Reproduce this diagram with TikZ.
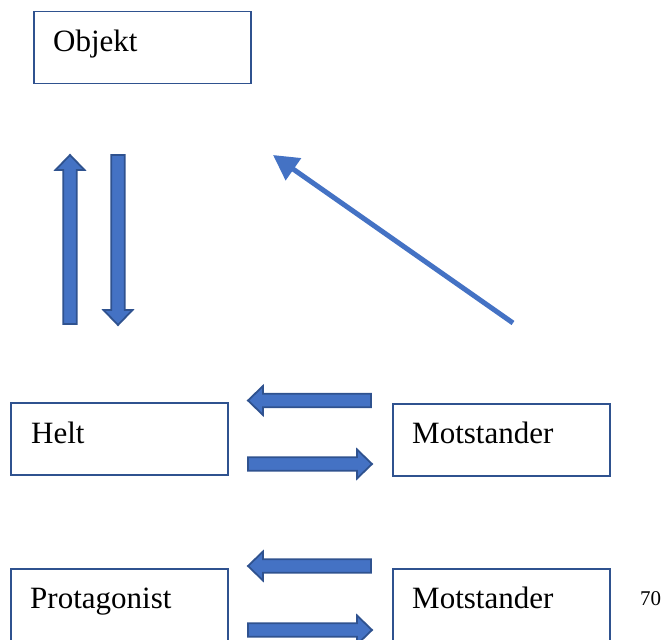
\documentclass[tikz,border=0pt]{standalone}
\usepackage{fontspec}
\setmainfont{Liberation Serif}
\usetikzlibrary{arrows.meta,calc}
\definecolor{accent}{HTML}{4472C4}
\definecolor{edge}{HTML}{2F528F}
\tikzset{
  box/.style={draw=edge, line width=1.5pt, rectangle, anchor=north west,
    minimum width=217pt, minimum height=72pt, inner sep=0pt},
  lbl/.style={anchor=base west, inner sep=0pt, font=\fontsize{31}{36}\selectfont},
  pics/barrow/.style={code={
    \filldraw[fill=accent, draw=edge, line width=1.8pt, line join=miter]
      (0,-6.75) -- (#1-15,-6.75) -- (#1-15,-14.5) -- (#1,0)
      -- (#1-15,14.5) -- (#1-15,6.75) -- (0,6.75) -- cycle;}},
  linkarrow/.style={draw=accent, line width=5pt,
    -{Triangle[length=25pt,width=26pt]}}
}
\begin{document}
\begin{tikzpicture}[x=1pt,y=-1pt]
\useasboundingbox (0,0) rectangle (663,639);

% boxes
\node[box] (obj)   at (33,11)  {};
\node[box] (helt)  at (10,402) {};
\node[box] (mot1)  at (392,403) {};
\node[box] (prot)  at (10,568) {};
\node[box] (mot2)  at (392,568) {};

% box captions
\node[lbl] (objt)  at ($(obj.north west)+(20,41)$)  {Objekt};
\node[lbl] (heltt) at ($(helt.north west)+(21,41)$) {Helt};
\node[lbl] (mot1t) at ($(mot1.north west)+(20,40)$) {Motstander};
\node[lbl] (prott) at ($(prot.north west)+(20,40)$) {Protagonist};
\node[lbl] (mot2t) at ($(mot2.north west)+(20,40)$) {Motstander};

% page number
\node[anchor=base west, inner sep=0pt, font=\fontsize{21}{25}\selectfont] (page) at (640,605) {70};

% vertical block arrows
\pic[rotate=90]  at (70,324)  {barrow=169};
\pic[rotate=-90] at (118,155) {barrow=170};

% horizontal block arrows, upper pair
\pic[rotate=180] at (371,400.5) {barrow=123};
\pic             at (248,464)   {barrow=124};

% horizontal block arrows, lower pair
\pic[rotate=180] at (371,566) {barrow=123};
\pic             at (248,630) {barrow=124};

% slanted arrow
\coordinate (tail) at (513,323);
\coordinate (head) at (273,155);
\draw[linkarrow] (tail) -- (head);
\end{tikzpicture}
\end{document}
